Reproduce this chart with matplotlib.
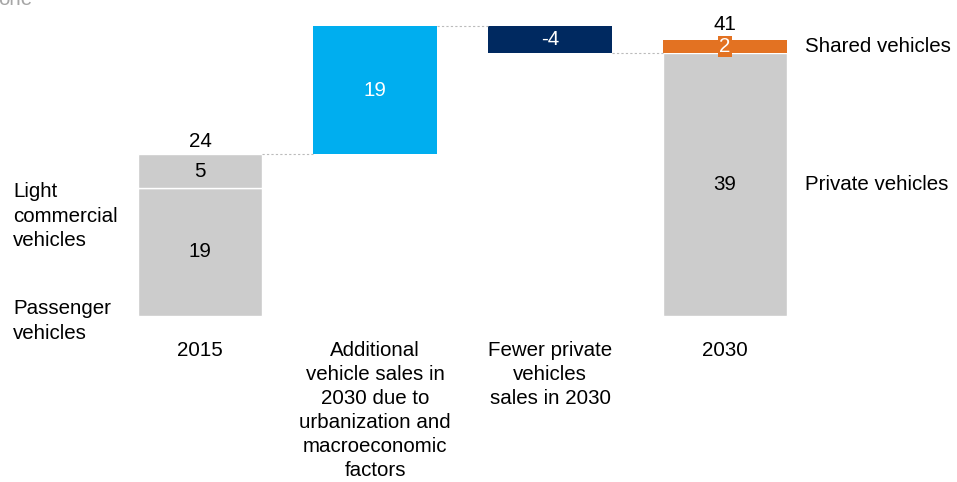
import matplotlib.pyplot as plt

plt.rcParams['font.family'] = ['Liberation Sans', 'DejaVu Sans']

# data
categories = ['2015',
              'Additional\nvehicle sales in\n2030 due to\nurbanization and\nmacroeconomic\nfactors',
              'Fewer private\nvehicles\nsales in 2030',
              '2030']
passenger_2015 = 19
light_commercial_2015 = 5
additional = 19
fewer_private = -4
private_2030 = 39
shared_2030 = 2

GREY = '#CCCCCC'
BLUE = '#00AEEF'
NAVY = '#002960'
ORANGE = '#E37222'

fig = plt.figure(figsize=(9.57, 4.82), dpi=100)
ax = fig.add_axes([0, 0, 1, 1])
ax.axis('off')

# pixel layout -> data limits
px_per_x = 175.0
px_per_y = 6.74
base_px = 316
ax.set_xlim(-200 / px_per_x, (957 - 200) / px_per_x)
ax.set_ylim(-(482 - base_px) / px_per_y, base_px / px_per_y)


def ypx(p):
    # pixel row -> data y
    return (base_px - p) / px_per_y


w = 0.71
total_2015 = passenger_2015 + light_commercial_2015
peak = total_2015 + additional
after = peak + fewer_private
total_2030 = private_2030 + shared_2030

# 2015 stack
ax.bar(0, passenger_2015, w, color=GREY, edgecolor='white', linewidth=1)
ax.bar(0, light_commercial_2015, w, bottom=passenger_2015, color=GREY, edgecolor='white', linewidth=1)
# floating bars
ax.bar(1, additional, w, bottom=total_2015, color=BLUE)
ax.bar(2, -fewer_private, w, bottom=after, color=NAVY)
# 2030 stack
ax.bar(3, private_2030, w, bottom=0, color=GREY, edgecolor='white', linewidth=1)
ax.bar(3, shared_2030, w, bottom=private_2030, color=ORANGE)

# connectors
conn = dict(color='#BBBBBB', linestyle=(0, (2, 2)), linewidth=0.8)
ax.plot([w / 2, 1 - w / 2], [total_2015, total_2015], **conn)
ax.plot([1 + w / 2, 2 - w / 2], [peak, peak], **conn)
ax.plot([2 + w / 2, 3 - w / 2], [after, after], **conn)

fs = 14.8
# value labels
ax.text(0, total_2015 + 0.5, str(total_2015), ha='center', va='bottom', fontsize=fs, color='black')
ax.text(0, passenger_2015 + light_commercial_2015 / 2, str(light_commercial_2015), ha='center', va='center', fontsize=fs)
ax.text(0, passenger_2015 / 2, str(passenger_2015), ha='center', va='center', fontsize=fs)
ax.text(1, total_2015 + additional / 2, str(additional), ha='center', va='center', fontsize=fs, color='white')
ax.text(2, after - fewer_private / 2, str(fewer_private), ha='center', va='center', fontsize=fs, color='white')
ax.text(3, private_2030 / 2, str(private_2030), ha='center', va='center', fontsize=fs)
ax.text(3, total_2030 + 0.9, str(total_2030), ha='center', va='bottom', fontsize=fs)
ax.text(3, private_2030 + shared_2030 / 2, str(shared_2030), ha='center', va='center', fontsize=fs, color='white',
        bbox=dict(boxstyle='square,pad=0.06', facecolor=ORANGE, edgecolor='none'))

# category labels
for i, c in enumerate(categories):
    ax.text(i, ypx(341), c, ha='center', va='top', fontsize=fs, linespacing=1.34)

# side labels
lx = (13 - 200) / px_per_x
ax.text(lx, ypx(216), 'Light\ncommercial\nvehicles', ha='left', va='center', fontsize=fs, linespacing=1.34)
ax.text(lx, ypx(321), 'Passenger\nvehicles', ha='left', va='center', fontsize=fs, linespacing=1.34)
rx = (805 - 200) / px_per_x
ax.text(rx, private_2030 + shared_2030 / 2, 'Shared vehicles', ha='left', va='center', fontsize=fs)
ax.text(rx, private_2030 / 2, 'Private vehicles', ha='left', va='center', fontsize=fs)

# clipped unit text at the top-left
ax.text(-200 / px_per_x - 0.01, ypx(5), 'one', ha='left', va='baseline', fontsize=fs, color='#A6A6A6')

fig.savefig('out.png', dpi=100)
